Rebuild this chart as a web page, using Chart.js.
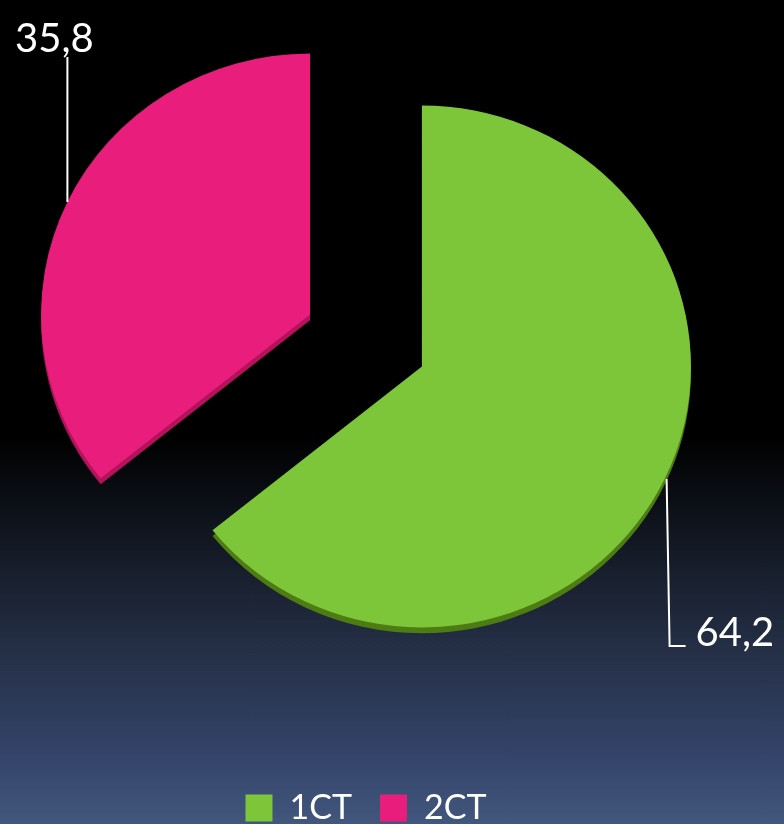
<!DOCTYPE html>
<html>
<head>
<meta charset="utf-8">
<script src="https://cdn.jsdelivr.net/npm/chart.js@4.4.1/dist/chart.umd.min.js"></script>
<style>
    html, body {
        margin: 0;
        width: 784px;
        height: 824px;
        overflow: hidden;
        background: linear-gradient(to bottom,
            #000000 0%, #000000 53%, #141a26 67%,
            #263149 80%, #34446a 92%, #42577d 100%);
    }
    /* canvas is taller than the window so the legend sits cut at the bottom edge */
    #wrap {
        position: absolute;
        left: 0;
        top: -82px;
        width: 784px;
        height: 917px;
    }
</style>
</head>
<body>
<div id="wrap"><canvas id="chart"></canvas></div>
<script>
// --- Data ---
const categories = ["1CT", "2CT"];
const shares = [64.2, 35.8];
const shareLabels = ["64,2", "35,8"];

const SLICE_COLORS = ["#7dc63a", "#e91e7c"];
const RIM_COLORS = ["#4d7d12", "#b5125c"];
const EXPLODE = 62;     // px each slice is pulled out along its mid angle
const RIM_DEPTH = 6;
const TILT = 0.97;      // slight vertical squash, the original is a tilted 3D pie

function midAngle(arc) {
    return (arc.startAngle + arc.endAngle) / 2;
}

function tilt(ctx, arc) {
    ctx.translate(arc.x, arc.y);
    ctx.scale(1, TILT);
    ctx.translate(-arc.x, -arc.y);
}

// draws the arcs pulled apart (same distance for both), with a darker rim under each
const explodePlugin = {
    id: "explode",
    beforeDatasetDraw(chart, args) {
        const ctx = chart.ctx;
        const arcs = args.meta.data;
        arcs.forEach((arc, i) => {
            const m = midAngle(arc);
            const cx = arc.x + Math.cos(m) * EXPLODE;
            const cy = arc.y + Math.sin(m) * EXPLODE + RIM_DEPTH;
            ctx.save();
            tilt(ctx, arc);
            ctx.fillStyle = RIM_COLORS[i];
            ctx.beginPath();
            ctx.moveTo(cx, cy);
            ctx.arc(cx, cy, arc.outerRadius, arc.startAngle, arc.endAngle);
            ctx.closePath();
            ctx.fill();
            ctx.restore();
        });
        arcs.forEach((arc) => {
            const m = midAngle(arc);
            ctx.save();
            tilt(ctx, arc);
            ctx.translate(Math.cos(m) * EXPLODE, Math.sin(m) * EXPLODE);
            arc.draw(ctx);
            ctx.restore();
        });
        return false;
    },
};

// value labels with vertical leader lines
const leaderPlugin = {
    id: "leaders",
    afterDatasetsDraw(chart) {
        const ctx = chart.ctx;
        ctx.save();
        ctx.strokeStyle = "#ffffff";
        ctx.lineWidth = 2;
        ctx.fillStyle = "#ffffff";
        ctx.font = "40px Lato, 'Open Sans', sans-serif";
        ctx.textBaseline = "alphabetic";
        chart.getDatasetMeta(0).data.forEach((arc, i) => {
            const m = midAngle(arc);
            const r = EXPLODE + arc.outerRadius;
            const ax = arc.x + Math.cos(m) * r;
            const ay = arc.y + Math.sin(m) * r * TILT;
            ctx.beginPath();
            if (ay > arc.y) {
                // lower label: down, then a short foot to the right
                const ly = ay + 167;
                ctx.moveTo(ax + 2, ay);
                ctx.lineTo(ax + 5, ly);
                ctx.lineTo(ax + 21, ly);
                ctx.stroke();
                ctx.textAlign = "left";
                ctx.fillText(shareLabels[i], ax + 31, ly);
            } else {
                // upper label: straight up to the text
                const ly = ay - 145;
                ctx.moveTo(ax, ay);
                ctx.lineTo(ax, ly);
                ctx.stroke();
                ctx.textAlign = "center";
                ctx.fillText(shareLabels[i], ax - 13, ly - 5);
            }
        });
        ctx.restore();
    },
};

new Chart(document.getElementById("chart"), {
    type: "pie",
    data: {
        labels: categories,
        datasets: [{
            data: shares,
            backgroundColor: SLICE_COLORS,
            borderWidth: 0,
            radius: 269,
            clip: false,
        }],
    },
    options: {
        responsive: true,
        maintainAspectRatio: false,
        animation: false,
        events: [],
        layout: { padding: { left: 0, right: 52, top: 0, bottom: 0 } },
        plugins: {
            tooltip: { enabled: false },
            legend: {
                position: "bottom",
                labels: {
                    color: "#ffffff",
                    font: { size: 34, family: "Lato, 'Open Sans', sans-serif" },
                    boxWidth: 27,
                    boxHeight: 27,
                    padding: 28,
                },
            },
        },
    },
    plugins: [explodePlugin, leaderPlugin],
});
</script>
</body>
</html>
